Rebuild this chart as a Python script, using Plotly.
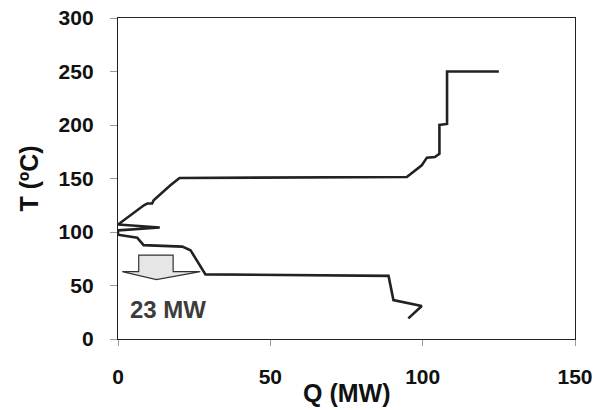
import plotly.graph_objects as go

# Grand composite curve data (Q in MW, T in degC)
Q = [125, 108, 108, 105.5, 105.5, 104, 101.4, 99.7, 94.8, 20.2, 17.2, 11.7, 11.2, 9.6, 8.5, 4.1,
     0, 13.7, 1.0, 0, 0, 6.3, 8.4, 21.1, 23.8, 28.7, 88.8, 90.4, 99.7, 95.3]
T = [250, 250, 201, 200, 173, 170, 169.5, 162.4, 151.4, 150.5, 143.7, 129.7, 126.6, 126.6, 125, 115.7,
     107, 104.2, 102, 101.5, 97.5, 94.7, 87.7, 86.3, 83, 60.4, 59, 36.4, 30.8, 19.3]

x_ticks = [0, 50, 100, 150]
y_ticks = [0, 50, 100, 150, 200, 250, 300]

# block arrow (data units)
arrow_shaft_x = [6.8, 18.1]
arrow_shaft_y = [78.4, 63.0]
arrow_head_x = [1.4, 27.0]
arrow_tip = (12.6, 55.5)
label_text = "23 MW"
label_pos = (16.5, 28.0)

FONT = "Arial, Liberation Sans, sans-serif"

fig = go.Figure()
fig.add_trace(go.Scatter(x=Q, y=T, mode="lines",
                         line=dict(color="#222222", width=2.6), hoverinfo="skip",
                         showlegend=False))

x0, x1 = arrow_shaft_x
ya, yb = arrow_shaft_y
hx0, hx1 = arrow_head_x
tx, ty = arrow_tip
path = (f"M {x0},{ya} L {x1},{ya} L {x1},{yb} L {hx1},{yb} L {tx},{ty} "
        f"L {hx0},{yb} L {x0},{yb} Z")
fig.add_shape(type="path", path=path, xref="x", yref="y",
              fillcolor="#e6e6e6", line=dict(color="#333333", width=1.2))

fig.add_annotation(x=label_pos[0], y=label_pos[1], xref="x", yref="y", text=f"<b>{label_text}</b>",
                   showarrow=False, font=dict(family=FONT, size=24, color="#3c3c3c"))

# axis titles
fig.add_annotation(x=0.5, y=0, xref="paper", yref="paper", yshift=-54, text="<b>Q (MW)</b>",
                   showarrow=False, font=dict(family=FONT, size=25, color="#111111"),
                   yanchor="middle")
fig.add_annotation(x=0, y=0.5, xref="paper", yref="paper", xshift=-90, text="<b>T (ºC)</b>",
                   showarrow=False, textangle=-90, font=dict(family=FONT, size=25, color="#111111"),
                   xanchor="center")

axis_common = dict(showgrid=False, zeroline=False, showline=True, linecolor="#222222",
                   linewidth=1.4, mirror=True, ticks="outside", tickcolor="#9a9a9a",
                   ticklabeloverflow="allow",
                   tickfont=dict(family=FONT, size=21, color="#111111"))

fig.update_xaxes(range=[0, 150], tickvals=x_ticks, ticktext=[f"<b>{v}</b>" for v in x_ticks],
                 ticklen=6, ticklabelstandoff=13, **axis_common)
fig.update_yaxes(range=[0, 300], tickvals=y_ticks, ticktext=[f"<b>{v}</b>" for v in y_ticks],
                 ticklen=7, ticklabelstandoff=12, **axis_common)

fig.update_layout(width=609, height=410, margin=dict(l=110, r=42, t=10, b=79, autoexpand=False),
                  paper_bgcolor="white", plot_bgcolor="white", font=dict(family=FONT))

fig.write_html("out.html")
